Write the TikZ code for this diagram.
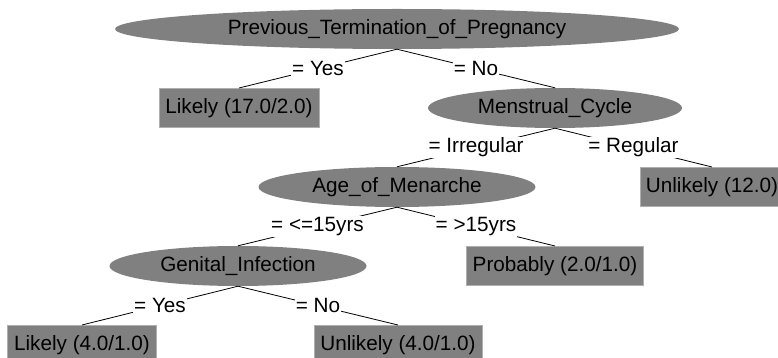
\documentclass[tikz,border=0pt]{standalone}
\usepackage{fontspec}
\setmainfont{Liberation Sans}
\usetikzlibrary{shapes.geometric}
\definecolor{wekagray}{RGB}{128,128,128}
\definecolor{wekalight}{RGB}{175,175,175}

\begin{document}
\begin{tikzpicture}[x=1pt, y=-1pt,
    split/.style={ellipse, fill=wekagray, inner sep=0pt, minimum height=40pt, minimum width=#1},
    leaf/.style={rectangle, fill=wekagray, draw=wekalight, line width=1pt, inner sep=0pt, minimum height=39pt, minimum width=#1},
    branch/.style={draw=black, line width=0.8pt},
    cond/.style={fill=white, inner sep=1pt},
    every node/.append style={font=\fontsize{20.7}{24}\selectfont}
  ]
    \useasboundingbox (0,0) rectangle (778,358);
    \clip (0,0) rectangle (778,358);

    \node[split=564pt] (termination) at (397,29)  {Previous\_Termination\_of\_Pregnancy};
    \node[leaf=160pt]  (likelyA)     at (239,108) {Likely (17.0/2.0)};
    \node[split=254pt] (cycle)       at (555,108) {Menstrual\_Cycle};
    \node[split=277pt] (menarche)    at (397,187) {Age\_of\_Menarche};
    \node[leaf=144pt]  (unlikelyA)   at (712,187) {Unlikely (12.0)};
    \node[split=257pt] (infection)   at (238,266) {Genital\_Infection};
    \node[leaf=177pt]  (probably)    at (555,266) {Probably (2.0/1.0)};
    \node[leaf=149pt]  (likelyB)     at (82,345)  {Likely (4.0/1.0)};
    \node[leaf=168pt]  (unlikelyB)   at (398,345) {Unlikely (4.0/1.0)};

    \draw[branch] (termination.south) -- node[cond]{= Yes} (likelyA.north);
    \draw[branch] (termination.south) -- node[cond]{= No} (cycle.north);
    \draw[branch] (cycle.south) -- node[cond]{= Irregular} (menarche.north);
    \draw[branch] (cycle.south) -- node[cond]{= Regular} (unlikelyA.north);
    \draw[branch] (menarche.south) -- node[cond]{= <=15yrs} (infection.north);
    \draw[branch] (menarche.south) -- node[cond]{= >15yrs} (probably.north);
    \draw[branch] (infection.south) -- node[cond]{= Yes} (likelyB.north);
    \draw[branch] (infection.south) -- node[cond]{= No} (unlikelyB.north);
  \end{tikzpicture}
\end{document}
